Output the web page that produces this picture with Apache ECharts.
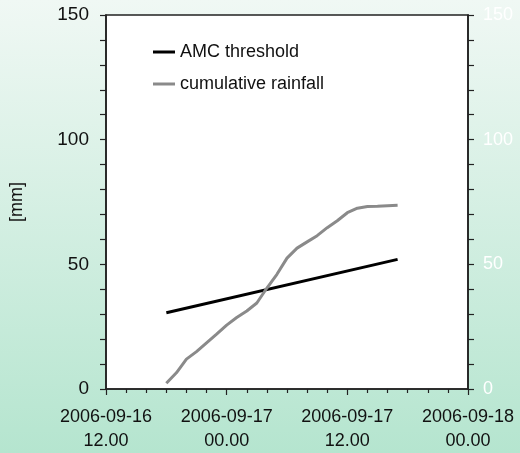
<!DOCTYPE html>
<html>
<head>
<meta charset="utf-8">
<script src="https://cdn.jsdelivr.net/npm/echarts@6/dist/echarts.min.js"></script>
<style>
  html, body { margin: 0; padding: 0; }
  #chart { width: 520px; height: 453px; }
</style>
</head>
<body>
<div id="chart"></div>
<script>
// Hourly cumulative rainfall, 2006-09-16 18:00 to 2006-09-17 17:00 [mm]
const rainTimes = [
  '2006-09-16 18:00', '2006-09-16 19:00', '2006-09-16 20:00', '2006-09-16 21:00',
  '2006-09-16 22:00', '2006-09-16 23:00', '2006-09-17 00:00', '2006-09-17 01:00',
  '2006-09-17 02:00', '2006-09-17 03:00', '2006-09-17 04:00', '2006-09-17 05:00',
  '2006-09-17 06:00', '2006-09-17 07:00', '2006-09-17 08:00', '2006-09-17 09:00',
  '2006-09-17 10:00', '2006-09-17 11:00', '2006-09-17 12:00', '2006-09-17 13:00',
  '2006-09-17 14:00', '2006-09-17 15:00', '2006-09-17 16:00', '2006-09-17 17:00'
];
const rainValues = [
  2.3, 6.5, 12.0, 15.0, 18.5, 22.0, 25.6, 28.7,
  31.3, 34.5, 40.5, 46.0, 52.5, 56.5, 59.0, 61.5,
  64.7, 67.5, 70.7, 72.5, 73.2, 73.3, 73.5, 73.7
];

// AMC threshold (straight line between its end points) [mm]
const amcTimes = ['2006-09-16 18:00', '2006-09-17 17:00'];
const amcValues = [30.6, 52.0];

// Axis range and tick labels
const axisStart = '2006-09-16 12:00';
const axisEnd = '2006-09-18 00:00';
const yTicks = [0, 50, 100, 150];

const HOUR = 3600 * 1000;
function toMs(s) {
  const [d, t] = s.split(' ');
  const [y, mo, da] = d.split('-').map(Number);
  const [h, mi] = t.split(':').map(Number);
  return Date.UTC(y, mo - 1, da, h, mi);
}
function pad(n) { return (n < 10 ? '0' : '') + n; }
function fmtTime(v) {
  const dt = new Date(v);
  return dt.getUTCFullYear() + '-' + pad(dt.getUTCMonth() + 1) + '-' + pad(dt.getUTCDate()) +
    '\n' + pad(dt.getUTCHours()) + '.' + pad(dt.getUTCMinutes());
}

const FONT = "'Liberation Sans', Arial, sans-serif";
const AXIS_COLOR = '#222';

const chart = echarts.init(document.getElementById('chart'), null, { renderer: 'canvas' });

const yAxisCommon = {
  type: 'value',
  min: yTicks[0],
  max: yTicks[yTicks.length - 1],
  interval: yTicks[1] - yTicks[0],
  splitLine: { show: false },
  axisLine: { show: true, lineStyle: { color: AXIS_COLOR, width: 1.6 } },
  axisTick: { show: true, inside: false, length: 6, lineStyle: { color: AXIS_COLOR, width: 1.2 } },
  minorTick: { show: true, splitNumber: 5, length: 6, lineStyle: { color: AXIS_COLOR, width: 1.2 } },
  minorSplitLine: { show: false }
};

chart.setOption({
  backgroundColor: {
    type: 'linear', x: 0, y: 0, x2: 0, y2: 1,
    colorStops: [
      { offset: 0, color: '#f0f8f4' },
      { offset: 1, color: '#b5e5cf' }
    ]
  },
  animation: false,
  textStyle: { fontFamily: FONT },
  grid: {
    left: 104, right: 52, top: 15, bottom: 63,
    show: true, backgroundColor: '#ffffff',
    borderColor: AXIS_COLOR, borderWidth: 1.6
  },
  legend: {
    orient: 'vertical',
    left: 153, top: 42,
    padding: 0,
    icon: 'rect',
    itemWidth: 22, itemHeight: 3,
    itemGap: 12,
    textStyle: { fontSize: 18, color: '#111', lineHeight: 20, fontFamily: FONT },
    data: ['AMC threshold', 'cumulative rainfall']
  },
  xAxis: {
    type: 'value',
    min: toMs(axisStart),
    max: toMs(axisEnd),
    interval: 12 * HOUR,
    splitLine: { show: false },
    axisLine: { show: true, onZero: false, lineStyle: { color: AXIS_COLOR, width: 1.6 } },
    axisTick: { show: true, inside: false, length: 6, lineStyle: { color: AXIS_COLOR, width: 1.2 } },
    minorTick: { show: true, splitNumber: 6, length: 4, lineStyle: { color: AXIS_COLOR, width: 1.2 } },
    minorSplitLine: { show: false },
    axisLabel: {
      margin: 16,
      fontSize: 18,
      lineHeight: 24,
      color: '#111',
      fontFamily: FONT,
      formatter: fmtTime
    }
  },
  yAxis: [
    Object.assign({}, yAxisCommon, {
      position: 'left',
      name: '[mm]',
      nameLocation: 'middle',
      nameGap: 80,
      nameTextStyle: { fontSize: 18, color: '#111', fontFamily: FONT },
      axisLabel: { margin: 17, fontSize: 19, color: '#111', fontFamily: FONT }
    }),
    Object.assign({}, yAxisCommon, {
      position: 'right',
      axisLabel: { margin: 15, fontSize: 18, color: '#ffffff', fontFamily: FONT }
    })
  ],
  series: [
    {
      name: 'AMC threshold',
      type: 'line',
      yAxisIndex: 0,
      showSymbol: false,
      color: '#000000',
      lineStyle: { color: '#000000', width: 3 },
      data: amcTimes.map((t, i) => [toMs(t), amcValues[i]])
    },
    {
      name: 'cumulative rainfall',
      type: 'line',
      yAxisIndex: 0,
      showSymbol: false,
      color: '#8a8a8a',
      lineStyle: { color: '#8a8a8a', width: 3 },
      data: rainTimes.map((t, i) => [toMs(t), rainValues[i]])
    }
  ]
});
</script>
</body>
</html>
